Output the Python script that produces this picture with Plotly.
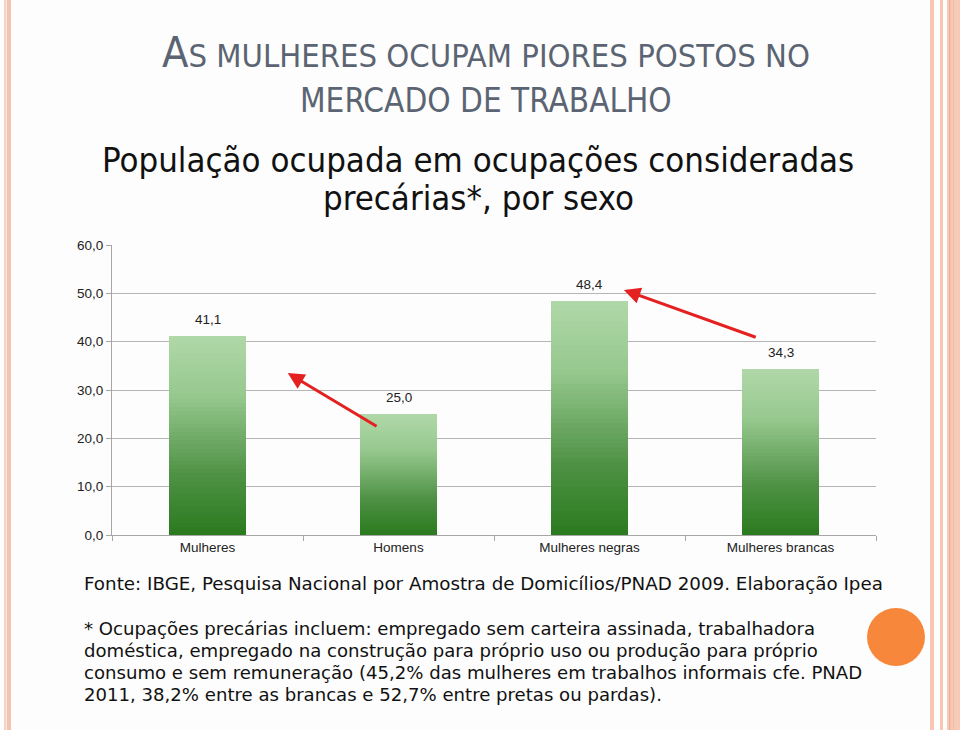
import plotly.graph_objects as go

categories = ["Mulheres", "Homens", "Mulheres negras", "Mulheres brancas"]
values = [41.1, 25.0, 48.4, 34.3]
y_ticks = [0, 10, 20, 30, 40, 50, 60]

title_main = "A"
title_rest_1 = "S MULHERES OCUPAM PIORES POSTOS NO"
title_rest_2 = "MERCADO DE TRABALHO"
subtitle_1 = "População ocupada em ocupações consideradas"
subtitle_2 = "precárias*, por sexo"
source_text = "Fonte: IBGE, Pesquisa Nacional por Amostra de Domicílios/PNAD 2009. Elaboração Ipea"
note_lines = [
    "* Ocupações precárias incluem: empregado sem carteira assinada, trabalhadora",
    "doméstica, empregado na construção para próprio uso ou produção para próprio",
    "consumo e sem remuneração (45,2% das mulheres em trabalhos informais cfe. PNAD",
    "2011, 38,2% entre as brancas e 52,7% entre pretas ou pardas).",
]

W, H = 960, 730
ML, MR, MT, MB = 112, 84, 245, 195
PW = W - ML - MR
PH = H - MT - MB

def px(x):
    return (x - ML) / PW

def py(y):
    return (H - MB - y) / PH

# gradient stops (fraction of bar height from bottom -> rgb)
stops = [(0.0, (42, 122, 30)), (0.3, (78, 145, 68)), (0.7, (150, 200, 142)), (1.0, (176, 216, 168))]

def grad(t):
    for (t0, c0), (t1, c1) in zip(stops[:-1], stops[1:]):
        if t0 <= t <= t1:
            f = (t - t0) / (t1 - t0)
            return "rgb(%d,%d,%d)" % tuple(round(a + (b - a) * f) for a, b in zip(c0, c1))
    return "rgb(%d,%d,%d)" % stops[-1][1]

N = 48
fig = go.Figure()
for i in range(N):
    col = grad((i + 0.5) / N)
    fig.add_trace(go.Bar(
        x=categories, y=[v / N for v in values],
        marker=dict(color=col, line=dict(color=col, width=0.6)),
        showlegend=False, hoverinfo="skip",
    ))

ann = []
for c, v in zip(categories, values):
    ann.append(dict(x=c, y=v, xref="x", yref="y", text=("%.1f" % v).replace(".", ","),
                    showarrow=False, yanchor="bottom", yshift=7,
                    font=dict(family="Liberation Sans, Arial", size=13.5, color="#222")))

# red arrows (tail -> head), in category-index / data coordinates
arrows = [((0.893, 22.3), (0.42, 33.5)), ((2.878, 40.8), (2.18, 50.7))]
for (tx, ty), (hx, hy) in arrows:
    ann.append(dict(x=hx, y=hy, ax=tx, ay=ty, xref="x", yref="y", axref="x", ayref="y",
                    text="", showarrow=True, arrowhead=2, arrowsize=1.1, arrowwidth=3,
                    arrowcolor="#e42020"))

cond = "DejaVu Sans Condensed, Liberation Sans Narrow, Roboto, sans-serif"
body = "DejaVu Sans, Verdana, sans-serif"
ann.append(dict(xref="paper", yref="paper", x=px(486), y=py(52), xanchor="center", yanchor="middle",
                showarrow=False,
                text="<span style='font-size:43px'>" + title_main + "</span>" + title_rest_1,
                font=dict(family=cond, size=32.5, color="#5b6472")))
ann.append(dict(xref="paper", yref="paper", x=px(486), y=py(100), xanchor="center", yanchor="middle",
                showarrow=False, text=title_rest_2,
                font=dict(family=cond, size=33, color="#5b6472")))
ann.append(dict(xref="paper", yref="paper", x=px(478), y=py(160), xanchor="center", yanchor="middle",
                showarrow=False, text=subtitle_1,
                font=dict(family=cond, size=34.5, color="#111")))
ann.append(dict(xref="paper", yref="paper", x=px(478), y=py(198), xanchor="center", yanchor="middle",
                showarrow=False, text=subtitle_2,
                font=dict(family=cond, size=34.5, color="#111")))
ann.append(dict(xref="paper", yref="paper", x=px(82), y=py(583), xanchor="left", yanchor="middle",
                showarrow=False, text=source_text,
                font=dict(family=body, size=18.3, color="#111")))
for k, line in enumerate(note_lines):
    ann.append(dict(xref="paper", yref="paper", x=px(82), y=py(628 + 22 * k), xanchor="left",
                    yanchor="middle", showarrow=False, text=line,
                    font=dict(family=body, size=18.1, color="#111")))

shapes = []
def vstripe(x0, x1, color):
    shapes.append(dict(type="rect", xref="paper", yref="paper", x0=px(x0), x1=px(x1),
                       y0=py(H), y1=py(0), fillcolor=color, line=dict(width=0), layer="below"))

vstripe(4, 6.5, "#f1d6c8")
vstripe(7, 11, "#f6c3ae")
vstripe(930, 934, "#f7c7b3")
vstripe(940, 943, "#f7c7b3")
vstripe(947, 960, "#f8cbb8")
vstripe(949, 950.5, "#eeb19a")
vstripe(953, 954, "#f2bba6")
shapes.append(dict(type="circle", xref="paper", yref="paper", x0=px(867), x1=px(925),
                   y0=py(666), y1=py(608), fillcolor="#f7873a", line=dict(width=0)))

fig.update_layout(
    width=W, height=H, margin=dict(l=ML, r=MR, t=MT, b=MB),
    barmode="stack", bargap=0.6,
    paper_bgcolor="#fdfdfd", plot_bgcolor="#fdfdfd",
    separators=", ",
    annotations=ann, shapes=shapes,
    xaxis=dict(type="category", categoryarray=categories, tickson="boundaries",
               ticks="outside", ticklen=5, tickcolor="#a6a6a6", showline=True,
               linecolor="#a6a6a6", linewidth=1, showgrid=False,
               tickfont=dict(family="Liberation Sans, Arial", size=13.5, color="#222")),
    yaxis=dict(range=[0, 60], tickvals=y_ticks, tickformat=".1f", ticks="outside",
               ticklen=5, tickcolor="#a6a6a6", showline=True, linecolor="#a6a6a6",
               gridcolor="#b5b5b5", gridwidth=1, zeroline=False,
               tickfont=dict(family="Liberation Sans, Arial", size=13.5, color="#222")),
)

fig.write_html("out.html")
